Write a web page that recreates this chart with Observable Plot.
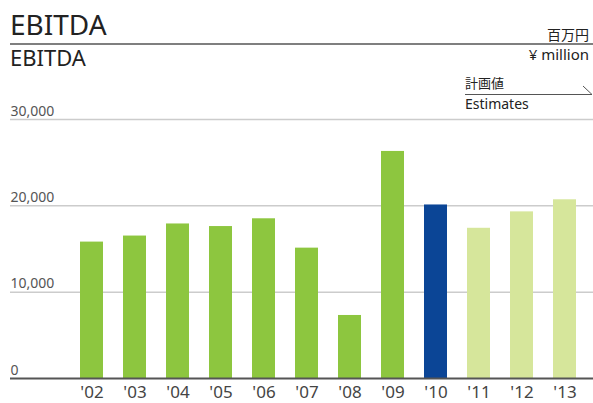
<!DOCTYPE html>
<html>
<head>
<meta charset="utf-8">
<script src="https://cdn.jsdelivr.net/npm/d3@7"></script>
<script src="https://cdn.jsdelivr.net/npm/@observablehq/plot@0.6"></script>
<style>
  html, body { margin: 0; padding: 0; background: #fff; }
  #wrap { position: relative; width: 593px; height: 403px; overflow: hidden; }
  #wrap svg { position: absolute; left: 0; top: 0; }
  .lat { font-family: "Noto Sans", "Noto Sans CJK JP", sans-serif; }
</style>
</head>
<body>
<div id="wrap"></div>
<script>
// Data
const years = ["'02","'03","'04","'05","'06","'07","'08","'09","'10","'11","'12","'13"];
const ebitda = [15800, 16500, 17900, 17600, 18500, 15100, 7300, 26300, 20100, 17400, 19300, 20700];
const kinds = ["actual","actual","actual","actual","actual","actual","actual","actual","current","estimate","estimate","estimate"];
const yTicks = [0, 10000, 20000, 30000];
const kindDomain = ["actual","current","estimate"];
const kindColors = ["#8dc63f","#0b4596","#d6e69b"];

const rows = years.map((y, i) => ({year: y, value: ebitda[i], kind: kinds[i]}));
const fmt = d3.format(",");

const chart = Plot.plot({
  width: 593,
  height: 403,
  marginLeft: 10,
  marginRight: 0,
  marginTop: 119,
  marginBottom: 25,
  style: {fontFamily: '"Noto Sans", sans-serif', background: "transparent"},
  x: {domain: years, paddingInner: 0.47, paddingOuter: 0, insetLeft: 68, insetRight: 16, axis: null},
  y: {domain: [0, 30000], axis: null},
  color: {domain: kindDomain, range: kindColors},
  marks: [
    Plot.ruleY(yTicks.filter(d => d > 0), {stroke: "#cccccc", strokeWidth: 1.5}),
    Plot.text(yTicks, {y: d => d, text: d => fmt(d), frameAnchor: "left", textAnchor: "start", lineAnchor: "bottom", dy: -4, fontSize: 14, fill: "#555"}),
    Plot.barY(rows, {x: "year", y: "value", fill: "kind"}),
    Plot.ruleY([0], {stroke: "#555", strokeWidth: 2}),
    Plot.axisX({tickSize: 0, tickPadding: 7, fontSize: 17, color: "#444", label: null})
  ]
});
document.getElementById("wrap").appendChild(chart);

// Header overlay
const ns = "http://www.w3.org/2000/svg";
const ov = document.createElementNS(ns, "svg");
ov.setAttribute("width", 593);
ov.setAttribute("height", 403);
ov.setAttribute("class", "lat");
ov.innerHTML = `
  <text x="10" y="35" font-size="28" fill="#222">EBITDA</text>
  <line x1="10" x2="593" y1="44" y2="44" stroke="#555" stroke-width="1.3"/>
  <text x="10" y="66" font-size="22" fill="#222">EBITDA</text>
  <text x="589" y="40" font-size="14" fill="#222" text-anchor="end" font-family="'Noto Sans CJK JP', sans-serif">百万円</text>
  <text x="589" y="60" font-size="15" fill="#222" text-anchor="end">¥ million</text>
  <text x="465" y="88" font-size="13" fill="#222" font-family="'Noto Sans CJK JP', sans-serif">計画値</text>
  <line x1="465" x2="592" y1="94.5" y2="94.5" stroke="#555" stroke-width="1.2"/>
  <line x1="583" x2="592" y1="86" y2="94.5" stroke="#555" stroke-width="1"/>
  <text x="465" y="109" font-size="14" fill="#222">Estimates</text>
`;
document.getElementById("wrap").appendChild(ov);
</script>
</body>
</html>
